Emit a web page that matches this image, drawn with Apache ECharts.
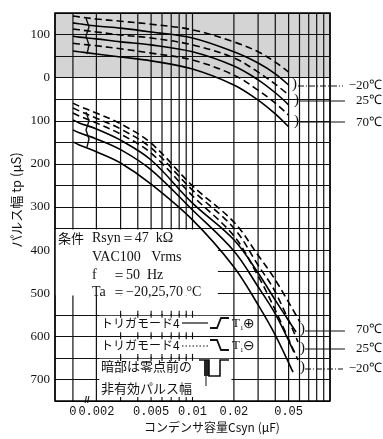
<!DOCTYPE html>
<html><head><meta charset="utf-8">
<script src="https://cdn.jsdelivr.net/npm/echarts@6/dist/echarts.min.js"></script>
<style>html,body{margin:0;padding:0;background:#fff}#c{width:383px;height:439px}</style>
</head><body><div id="c"></div>
<script>
// ---- axis definitions ----
const ZERO_C = 0.00135; // position of "0" on the broken log axis
const X_LABEL_VALUES = [ZERO_C, 0.002, 0.005, 0.01, 0.02, 0.05];
const X_LABEL_TEXT = ['0', '0.002', '0.005', '0.01', '0.02', '0.05'];
const GRID_C = [0.001, ZERO_C, 0.002, 0.003, 0.004, 0.005, 0.006, 0.007, 0.008, 0.009, 0.01,
  0.02, 0.03, 0.04, 0.05, 0.06, 0.07, 0.08, 0.09, 0.1];
const Y_MIN = -150, Y_MAX = 750;
const ROW_TICK_C = [0.003, 0.004, 0.005, 0.006, 0.007, 0.008, 0.009, 0.01];
const ROW_TICK_V = [550, 600, 650, 750];

// ---- pre-zero (upper) curves: C in uF, tp in uS (negative = before zero point) ----
const C_UP = [ZERO_C, 0.0015, 0.002, 0.003, 0.005, 0.01, 0.02, 0.03, 0.04, 0.05];
const up_m20_neg = [-143, -141, -136, -131, -124, -111, -83, -60, -36, -13];
const up_m20_pos = [-127, -125, -120, -115, -106, -92, -60, -34, -9, 17];
const up_25_neg  = [-113, -111, -106, -99, -92, -76, -46, -13, 15, 40];
const up_25_pos  = [-96, -94, -90, -83, -76, -60, -27, 5, 35, 63];
const up_70_neg  = [-80, -78, -74, -67, -57, -41, -6, 29, 59, 87];
const up_70_pos  = [-62, -60, -55, -48, -39, -20, 17, 52, 84, 114];

// ---- pulse width (lower) curves ----
const C_LOW = [ZERO_C, 0.0015, 0.002, 0.003, 0.005, 0.01, 0.02, 0.03, 0.04];
const lo_m20_pos_end = 0.0538, lo_m20_neg_end = 0.0585;
const lo_25_pos_end = 0.0546, lo_25_neg_end = 0.0585;
const lo_70_pos_end = 0.0566, lo_70_neg_end = 0.0605;
const lo_m20_pos = [149, 156, 172, 198, 247, 330, 439, 527, 597, 683];
const lo_25_pos  = [121, 128, 142, 167, 214, 307, 402, 485, 548, 636];
const lo_70_pos  = [98, 105, 119, 145, 191, 291, 376, 453, 516, 590];
const lo_m20_neg = [82, 89, 105, 131, 175, 274, 367, 460, 539, 655];
const lo_25_neg  = [70, 77, 94, 119, 163, 261, 349, 435, 497, 613];
const lo_70_neg  = [59, 66, 82, 107, 152, 251, 335, 412, 469, 567];

function zip(cs, vs) { return cs.map((c, i) => [c, vs[i]]); }
function low(vs, end) { return zip(C_LOW.concat([end]), vs); }

const SERIF = 'Liberation Serif';
const CJK = 'Noto Sans CJK JP';

function curve(name, data, dashed) {
  return {
    name, type: 'line', data, smooth: 0.35, symbol: 'none', z: 5, silent: true,
    lineStyle: { color: '#000', width: 1.6, type: dashed ? [7, 4] : 'solid' }
  };
}

const bandColors = [];
for (let v = Y_MIN; v < Y_MAX; v += 50) bandColors.push(v < 0 ? '#d4d4d4' : 'rgba(0,0,0,0)');

const boxes = [
  [0.001, 352, 0.0153, 505],
  [0.0021, 505, 0.0192, 548],
  [0.0021, 552, 0.0192, 598],
  [0.0021, 602, 0.0192, 648],
  [0.0021, 652, 0.0192, 750]
];
const ticks = [];
ROW_TICK_V.forEach(v => ROW_TICK_C.forEach(c => ticks.push([c, v])));

const chart = echarts.init(document.getElementById('c'));
chart.setOption({
  animation: false,
  backgroundColor: '#fff',
  grid: { left: 55, right: 53, top: 13, bottom: 38 },
  xAxis: {
    type: 'log', logBase: 10, min: 0.001, max: 0.1,
    axisLine: { show: false }, axisTick: { show: false }, splitLine: { show: false },
    minorTick: { show: false },
    axisLabel: {
      customValues: X_LABEL_VALUES,
      margin: 5,
      fontFamily: 'Liberation Mono', fontSize: 12, color: '#111',
      formatter: function (v) {
        let best = 0, bd = 1e9;
        X_LABEL_VALUES.forEach((x, i) => { const d = Math.abs(Math.log(x) - Math.log(v)); if (d < bd) { bd = d; best = i; } });
        return X_LABEL_TEXT[best];
      }
    }
  },
  yAxis: {
    type: 'value', inverse: true, min: Y_MIN, max: Y_MAX, interval: 50,
    axisLine: { show: false }, axisTick: { show: false },
    splitLine: { show: true, lineStyle: { color: '#111', width: 1.2 } },
    splitArea: { show: true, areaStyle: { color: bandColors } },
    axisLabel: {
      margin: 5, fontFamily: SERIF, fontSize: 13, color: '#111',
      formatter: v => (v % 100 === 0 && v > Y_MIN && v < Y_MAX) ? String(Math.abs(v)) : ''
    }
  },
  series: [
    { // vertical grid lines
      type: 'custom', z: 1, silent: true, data: GRID_C.map(c => [c, 0]),
      renderItem: function (p, api) {
        const a = api.coord([api.value(0), Y_MIN]), b = api.coord([api.value(0), Y_MAX]);
        return { type: 'line', shape: { x1: a[0], y1: a[1], x2: b[0], y2: b[1] }, style: { stroke: '#111', lineWidth: 1.2 } };
      }
    },
    { // white text boxes
      type: 'custom', z: 2, silent: true, data: boxes,
      renderItem: function (p, api) {
        const a = api.coord([api.value(0), api.value(1)]), b = api.coord([api.value(2), api.value(3)]);
        return { type: 'rect', shape: { x: a[0], y: a[1], width: b[0] - a[0], height: b[1] - a[1] }, style: { fill: '#fff' } };
      }
    },
    { // row tick marks
      type: 'custom', z: 3, silent: true, data: ticks,
      renderItem: function (p, api) {
        const a = api.coord([api.value(0), api.value(1)]);
        const bottom = api.value(1) === Y_MAX;
        return { type: 'line', shape: { x1: a[0], y1: a[1] - 4, x2: a[0], y2: bottom ? a[1] : a[1] + 3 }, style: { stroke: '#111', lineWidth: 1.1 } };
      }
    },
    { // frame
      type: 'custom', z: 10, silent: true, data: [[0.001, Y_MIN, 0.1, Y_MAX]],
      renderItem: function (p, api) {
        const a = api.coord([api.value(0), api.value(1)]), b = api.coord([api.value(2), api.value(3)]);
        return { type: 'rect', shape: { x: a[0], y: a[1], width: b[0] - a[0], height: b[1] - a[1] }, style: { fill: null, stroke: '#000', lineWidth: 1.5 } };
      }
    },
    curve('pre -20 T1-', zip(C_UP, up_m20_neg), true),
    curve('pre -20 T1+', zip(C_UP, up_m20_pos), false),
    curve('pre 25 T1-', zip(C_UP, up_25_neg), true),
    curve('pre 25 T1+', zip(C_UP, up_25_pos), false),
    curve('pre 70 T1-', zip(C_UP, up_70_neg), true),
    curve('pre 70 T1+', zip(C_UP, up_70_pos), false),
    curve('tp -20 T1+', low(lo_m20_pos, lo_m20_pos_end), false),
    curve('tp -20 T1-', low(lo_m20_neg, lo_m20_neg_end), true),
    curve('tp 25 T1+', low(lo_25_pos, lo_25_pos_end), false),
    curve('tp 25 T1-', low(lo_25_neg, lo_25_neg_end), true),
    curve('tp 70 T1+', low(lo_70_pos, lo_70_pos_end), false),
    curve('tp 70 T1-', low(lo_70_neg, lo_70_neg_end), true)
  ],
  graphic: [
    // axis titles
    { type: 'text', x: 16, y: 200, rotation: Math.PI / 2, z: 20,
      style: { text: 'パルス幅 tp (μS)', font: '13px "' + CJK + '"', fill: '#111', align: 'center', verticalAlign: 'middle' } },
    { type: 'text', x: 212, y: 427, z: 20,
      style: { text: 'コンデンサ容量Csyn (μF)', font: '12px "' + CJK + '"', fill: '#111', align: 'center', verticalAlign: 'middle' } },
    // axis break mark
    { type: 'text', x: 87, y: 401, z: 20, style: { text: '//', font: 'bold 9px sans-serif', fill: '#111', align: 'center', verticalAlign: 'middle' } },
    // wavy marks at left ends of the curves
    { type: 'polyline', z: 20, shape: { points: [[86, 18], [89, 27], [86, 36], [89, 45], [87, 54]] }, style: { stroke: '#111', lineWidth: 1.4, fill: null } },
    { type: 'polyline', z: 20, shape: { points: [[86, 112], [89, 121], [86, 130], [89, 139], [87, 147]] }, style: { stroke: '#111', lineWidth: 1.4, fill: null } },
    // condition box text
    { type: 'text', x: 58, y: 238, z: 20, style: { text: '条件', font: '13px "' + CJK + '"', fill: '#111', verticalAlign: 'middle' } },
    { type: 'text', x: 92, y: 238, z: 20, style: { text: 'Rsyn＝47  kΩ', font: '14px "' + SERIF + '"', fill: '#111', verticalAlign: 'middle' } },
    { type: 'text', x: 92, y: 257, z: 20, style: { text: 'VAC100   Vrms', font: '14px "' + SERIF + '"', fill: '#111', verticalAlign: 'middle' } },
    { type: 'text', x: 92, y: 275, z: 20, style: { text: 'f', font: '14px "' + SERIF + '"', fill: '#111', verticalAlign: 'middle' } },
    { type: 'text', x: 112, y: 275, z: 20, style: { text: '＝50  Hz', font: '14px "' + SERIF + '"', fill: '#111', verticalAlign: 'middle' } },
    { type: 'text', x: 92, y: 292, z: 20, style: { text: 'Ta', font: '14px "' + SERIF + '"', fill: '#111', verticalAlign: 'middle' } },
    { type: 'text', x: 112, y: 292, z: 20, style: { text: '＝−20,25,70 °C', font: '14px "' + SERIF + '"', fill: '#111', verticalAlign: 'middle' } },
    // rows
    { type: 'text', x: 101, y: 323, z: 20, style: { text: 'トリガモード4', font: '12px "' + CJK + '"', fill: '#111', verticalAlign: 'middle' } },
    { type: 'line', z: 20, shape: { x1: 182, y1: 323, x2: 208, y2: 323 }, style: { stroke: '#111', lineWidth: 1.2 } },
    { type: 'polyline', z: 20, shape: { points: [[210, 328], [217, 328], [221, 318], [229, 318]] }, style: { stroke: '#111', lineWidth: 1.8, fill: null } },
    { type: 'text', x: 232, y: 324, z: 20, style: { text: 'T', font: '13px "' + SERIF + '"', fill: '#111', verticalAlign: 'middle' } },
    { type: 'text', x: 240, y: 328, z: 20, style: { text: '1', font: '7px "' + SERIF + '"', fill: '#111', verticalAlign: 'middle' } },
    { type: 'text', x: 243, y: 324, z: 20, style: { text: '⊕', font: '14px "DejaVu Sans"', fill: '#111', verticalAlign: 'middle' } },
    { type: 'text', x: 101, y: 345, z: 20, style: { text: 'トリガモード4', font: '12px "' + CJK + '"', fill: '#111', verticalAlign: 'middle' } },
    { type: 'line', z: 20, shape: { x1: 182, y1: 346, x2: 208, y2: 346 }, style: { stroke: '#111', lineWidth: 1.2, lineDash: [1.5, 2] } },
    { type: 'polyline', z: 20, shape: { points: [[210, 340], [217, 340], [221, 350], [229, 350]] }, style: { stroke: '#111', lineWidth: 1.8, fill: null } },
    { type: 'text', x: 232, y: 346, z: 20, style: { text: 'T', font: '13px "' + SERIF + '"', fill: '#111', verticalAlign: 'middle' } },
    { type: 'text', x: 240, y: 350, z: 20, style: { text: '1', font: '7px "' + SERIF + '"', fill: '#111', verticalAlign: 'middle' } },
    { type: 'text', x: 243, y: 346, z: 20, style: { text: '⊖', font: '14px "DejaVu Sans"', fill: '#111', verticalAlign: 'middle' } },
    { type: 'text', x: 101, y: 366, z: 20, style: { text: '暗部は零点前の', font: '13px "' + CJK + '"', fill: '#111', verticalAlign: 'middle' } },
    { type: 'text', x: 101, y: 388, z: 20, style: { text: '非有効パルス幅', font: '13px "' + CJK + '"', fill: '#111', verticalAlign: 'middle' } },
    { type: 'rect', z: 20, shape: { x: 204, y: 360, width: 5, height: 16 }, style: { fill: '#222' } },
    { type: 'polyline', z: 20, shape: { points: [[199, 360], [209, 360], [209, 376], [220, 376], [220, 360], [229, 360]] }, style: { stroke: '#111', lineWidth: 1.6, fill: null } },
    { type: 'line', z: 20, shape: { x1: 206, y1: 376, x2: 206, y2: 386 }, style: { stroke: '#111', lineWidth: 1 } },
    // brackets at curve ends
    { type: 'text', x: 292, y: 84, z: 20, style: { text: ')', font: '15px "' + SERIF + '"', fill: '#111', verticalAlign: 'middle' } },
    { type: 'text', x: 294, y: 100, z: 20, style: { text: ')', font: '15px "' + SERIF + '"', fill: '#111', verticalAlign: 'middle' } },
    { type: 'text', x: 294, y: 121, z: 20, style: { text: ')', font: '15px "' + SERIF + '"', fill: '#111', verticalAlign: 'middle' } },
    { type: 'text', x: 300, y: 329, z: 20, style: { text: ')', font: '15px "' + SERIF + '"', fill: '#111', verticalAlign: 'middle' } },
    { type: 'text', x: 300, y: 348, z: 20, style: { text: ')', font: '15px "' + SERIF + '"', fill: '#111', verticalAlign: 'middle' } },
    { type: 'text', x: 300, y: 367, z: 20, style: { text: ')', font: '15px "' + SERIF + '"', fill: '#111', verticalAlign: 'middle' } },
    // leader lines
    { type: 'line', z: 20, shape: { x1: 298, y1: 86, x2: 343, y2: 86 }, style: { stroke: '#111', lineWidth: 1, lineDash: [6, 2, 1, 2] } },
    { type: 'line', z: 20, shape: { x1: 299, y1: 101, x2: 345, y2: 101 }, style: { stroke: '#111', lineWidth: 1 } },
    { type: 'line', z: 20, shape: { x1: 299, y1: 122, x2: 345, y2: 122 }, style: { stroke: '#111', lineWidth: 1 } },
    { type: 'line', z: 20, shape: { x1: 305, y1: 331, x2: 345, y2: 331 }, style: { stroke: '#111', lineWidth: 1 } },
    { type: 'line', z: 20, shape: { x1: 305, y1: 349, x2: 345, y2: 349 }, style: { stroke: '#111', lineWidth: 1 } },
    { type: 'line', z: 20, shape: { x1: 305, y1: 369, x2: 343, y2: 369 }, style: { stroke: '#111', lineWidth: 1, lineDash: [6, 2, 1, 2] } },
    // temperature labels
    { type: 'text', x: 382, y: 86, z: 20, style: { text: '−20℃', font: '13px "' + SERIF + '"', fill: '#111', align: 'right', verticalAlign: 'middle' } },
    { type: 'text', x: 382, y: 101, z: 20, style: { text: '25℃', font: '13px "' + SERIF + '"', fill: '#111', align: 'right', verticalAlign: 'middle' } },
    { type: 'text', x: 382, y: 123, z: 20, style: { text: '70℃', font: '13px "' + SERIF + '"', fill: '#111', align: 'right', verticalAlign: 'middle' } },
    { type: 'text', x: 382, y: 330, z: 20, style: { text: '70℃', font: '13px "' + SERIF + '"', fill: '#111', align: 'right', verticalAlign: 'middle' } },
    { type: 'text', x: 382, y: 349, z: 20, style: { text: '25℃', font: '13px "' + SERIF + '"', fill: '#111', align: 'right', verticalAlign: 'middle' } },
    { type: 'text', x: 382, y: 369, z: 20, style: { text: '−20℃', font: '13px "' + SERIF + '"', fill: '#111', align: 'right', verticalAlign: 'middle' } }
  ]
});
</script></body></html>
